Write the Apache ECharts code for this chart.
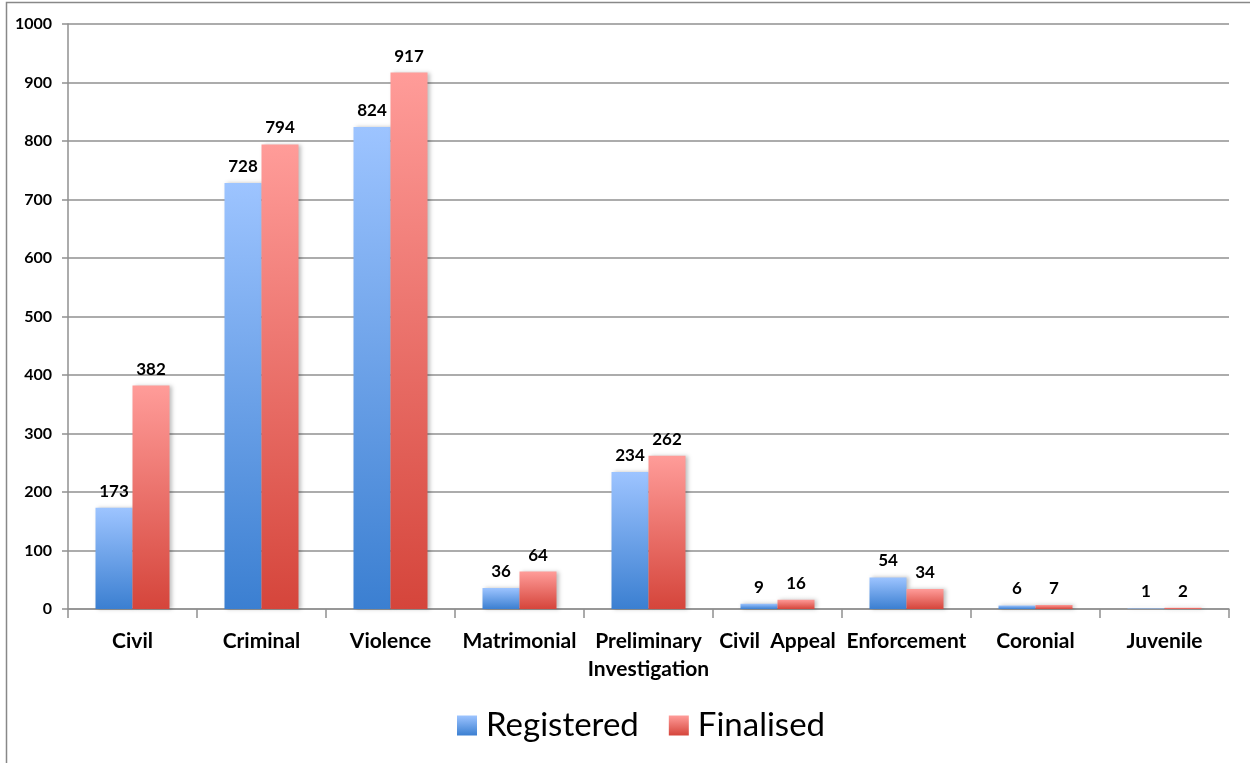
<!DOCTYPE html>
<html>
<head>
<meta charset="utf-8">
<script src="https://cdn.jsdelivr.net/npm/echarts@6/dist/echarts.min.js"></script>
<style>html,body{margin:0;padding:0;background:#fff}#c{width:1250px;height:763px}</style>
</head>
<body>
<div id="c"></div>
<script>
var categories = ["Civil", "Criminal", "Violence", "Matrimonial", "Preliminary\nInvestigation", "Civil  Appeal", "Enforcement", "Coronial", "Juvenile"];
var registered = [173, 728, 824, 36, 234, 9, 54, 6, 1];
var finalised = [382, 794, 917, 64, 262, 16, 34, 7, 2];
var yTicks = {min: 0, max: 1000, interval: 100};

var font = "Lato, 'Open Sans', sans-serif";
function grad(top, bottom) {
  return new echarts.graphic.LinearGradient(0, 0, 0, 1, [{offset: 0, color: top}, {offset: 1, color: bottom}]);
}
var chart = echarts.init(document.getElementById('c'), null, {renderer: 'canvas'});
var labelStyle = {show: true, position: 'top', distance: 8, color: '#000', fontWeight: 'bold', fontSize: 17, fontFamily: font};
chart.setOption({
  animation: false,
  backgroundColor: '#fff',
  graphic: [{type: 'rect', shape: {x: 6.5, y: 2.5, width: 1300, height: 900}, style: {fill: 'none', stroke: '#888', lineWidth: 1.5}, silent: true}],
  grid: {left: 68, right: 21, top: 24, bottom: 154},
  legend: {
    top: 704, left: 452, itemWidth: 20, itemHeight: 20, itemGap: 30,
    icon: 'rect',
    textStyle: {fontSize: 33, fontFamily: font, color: '#000', padding: [0, 0, 0, 4]},
    data: ['Registered', 'Finalised']
  },
  xAxis: {
    type: 'category', data: categories,
    axisLine: {lineStyle: {color: '#909090', width: 1.5}},
    axisTick: {show: true, length: 9, lineStyle: {color: '#909090', width: 1.5}},
    axisLabel: {interval: 0, color: '#000', fontWeight: 'bold', fontSize: 21, fontFamily: font, margin: 18, lineHeight: 28, overflow: 'none'}
  },
  yAxis: {
    type: 'value', min: yTicks.min, max: yTicks.max, interval: yTicks.interval,
    axisLine: {show: true, lineStyle: {color: '#909090', width: 1.5}},
    axisTick: {show: true, length: 6, lineStyle: {color: '#909090', width: 1.5}},
    splitLine: {lineStyle: {color: '#909090', width: 1.5}},
    axisLabel: {color: '#000', fontWeight: 'bold', fontSize: 16, fontFamily: font, margin: 16, formatter: function (v) { return String(v); }}
  },
  series: [
    {name: 'Registered', type: 'bar', data: registered, barWidth: 37, barGap: '0%',
     itemStyle: {color: grad('#9dc4ff', '#3b7fd1'), shadowColor: 'rgba(0,0,0,0.25)', shadowBlur: 4, shadowOffsetX: 2},
     label: labelStyle},
    {name: 'Finalised', type: 'bar', data: finalised, barWidth: 37,
     itemStyle: {color: grad('#ff9c99', '#d5453b'), shadowColor: 'rgba(0,0,0,0.25)', shadowBlur: 4, shadowOffsetX: 2},
     label: labelStyle}
  ]
});
</script>
</body>
</html>
